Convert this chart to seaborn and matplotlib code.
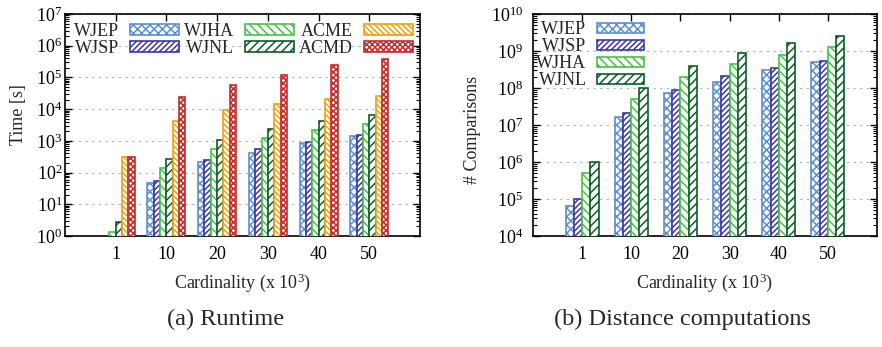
import numpy as np
import pandas as pd
import matplotlib
matplotlib.use("Agg")
import matplotlib.pyplot as plt
import seaborn as sns
from matplotlib.patches import Patch
from matplotlib.ticker import LogLocator, NullFormatter

# cardinality groups (x 10^3)
cardinality = ["1", "10", "20", "30", "40", "50"]

# (a) runtime in seconds
runtime_algos = ["WJEP", "WJSP", "WJHA", "WJNL", "ACME", "ACMD"]
rt_wjep = [np.nan, 46, 215, 425, 875, 1430]
rt_wjsp = [np.nan, 56, 250, 555, 920, 1540]
rt_wjha = [1.3, 137, 540, 1200, 2150, 3400]
rt_wjnl = [2.7, 263, 1050, 2330, 4150, 6600]
rt_acme = [316, 4360, 9400, 14500, 20500, 26000]
rt_acmd = [300, 23700, 58000, 117000, 247000, 375000]

# (b) number of distance computations
cmp_algos = ["WJEP", "WJSP", "WJHA", "WJNL"]
cmp_wjep = [6.5e4, 1.6e7, 7.2e7, 1.45e8, 3.0e8, 4.9e8]
cmp_wjsp = [1.0e5, 2.1e7, 9.1e7, 2.1e8, 3.4e8, 5.4e8]
cmp_wjha = [5.0e5, 5.0e7, 2.0e8, 4.5e8, 7.8e8, 1.26e9]
cmp_wjnl = [1.0e6, 9.8e7, 3.9e8, 8.7e8, 1.6e9, 2.5e9]

colors = {"WJEP": "#5b8fd2", "WJSP": "#3e36a6", "WJHA": "#45c445",
          "WJNL": "#0c5c26", "ACME": "#f0a010", "ACMD": "#c42e2e"}
hatches = {"WJEP": "xxxx", "WJSP": "//////", "WJHA": "\\\\\\\\",
           "WJNL": "////", "ACME": "\\\\\\\\\\\\", "ACMD": "xxxxxx"}

df_rt = pd.DataFrame({"card": cardinality, "WJEP": rt_wjep, "WJSP": rt_wjsp,
                      "WJHA": rt_wjha, "WJNL": rt_wjnl, "ACME": rt_acme,
                      "ACMD": rt_acmd}).melt(id_vars="card", var_name="algo", value_name="value")
df_cmp = pd.DataFrame({"card": cardinality, "WJEP": cmp_wjep, "WJSP": cmp_wjsp,
                       "WJHA": cmp_wjha, "WJNL": cmp_wjnl}).melt(id_vars="card", var_name="algo", value_name="value")

sns.set_style("ticks")
plt.rcParams["font.family"] = ["Liberation Serif", "DejaVu Serif"]
plt.rcParams["mathtext.fontset"] = "custom"
plt.rcParams["mathtext.rm"] = "Liberation Serif"
plt.rcParams["mathtext.it"] = "Liberation Serif:italic"
plt.rcParams["hatch.linewidth"] = 1.1
plt.rcParams["axes.linewidth"] = 1.2
plt.rcParams["axes.edgecolor"] = "black"

FS = 13

fig = plt.figure(figsize=(8.82, 3.47), dpi=100)
ax1 = fig.add_axes([65 / 882, 1 - 236 / 347, 355 / 882, 222 / 347])
ax2 = fig.add_axes([533 / 882, 1 - 236 / 347, 344 / 882, 222 / 347])


def draw(ax, df, algos, width):
    sns.barplot(data=df, x="card", y="value", hue="algo", order=cardinality,
                hue_order=algos, width=width, errorbar=None, legend=False,
                palette=[colors[a] for a in algos], linewidth=1.2, zorder=3, ax=ax)
    for algo, cont in zip(algos, ax.containers):
        for p in cont:
            p.set_facecolor("white")
            p.set_edgecolor(colors[algo])
            p.set_hatch(hatches[algo])
    ax.set_yscale("log")
    ax.set_xlim(-1, 6)
    ax.yaxis.set_major_locator(LogLocator(base=10, numticks=20))
    ax.yaxis.set_minor_locator(LogLocator(base=10, subs=np.arange(2, 10), numticks=20))
    ax.yaxis.set_minor_formatter(NullFormatter())
    ax.tick_params(axis="both", which="both", direction="in", top=True, right=True,
                   labelsize=FS, colors="black")
    ax.tick_params(axis="both", which="major", length=5, width=1)
    ax.tick_params(axis="y", which="minor", length=3, width=0.8)
    ax.tick_params(axis="x", which="major", pad=7)
    ax.yaxis.grid(True, which="major", linestyle=(0, (2, 4)), color="#b0b0b0", linewidth=0.8)
    ax.set_axisbelow(True)
    for s in ax.spines.values():
        s.set_visible(True)
        s.set_color("black")
    ax.set_xlabel("Cardinality (x $10^3$)", fontsize=FS)
    ax.xaxis.set_label_coords(0.5, -0.16)
    handles = [Patch(facecolor="white", edgecolor=colors[a], hatch=hatches[a],
                     linewidth=1.2, label=a) for a in algos]
    return handles


h1 = draw(ax1, df_rt, runtime_algos, 0.75)
ax1.set_ylim(1, 1e7)
ax1.tick_params(axis="y", which="major", pad=2)
ax1.set_ylabel("Time [s]", fontsize=FS)
ax1.yaxis.set_label_coords(-0.108, 0.545)
ax1.legend(handles=h1, ncol=3, loc="upper left", bbox_to_anchor=(0.025, 0.96),
           frameon=False, fontsize=FS, markerfirst=False, handlelength=2.7,
           handleheight=0.5, handletextpad=0.6, columnspacing=0.3,
           labelspacing=0.0, borderpad=0, borderaxespad=0)

h2 = draw(ax2, df_cmp, cmp_algos, 0.667)
ax2.set_ylim(1e4, 1e10)
ax2.tick_params(axis="y", which="major", pad=7)
ax2.set_ylabel("# Comparisons", fontsize=FS)
ax2.yaxis.set_label_coords(-0.15, 0.477)
ax2.legend(handles=h2, ncol=1, loc="upper left", bbox_to_anchor=(0.01, 0.967),
           frameon=False, fontsize=FS, markerfirst=False, handlelength=2.6,
           handleheight=0.5, handletextpad=0.6, labelspacing=0.0,
           borderpad=0, borderaxespad=0)

fig.text(226 / 882, 1 - 319 / 347, "(a) Runtime", ha="center", va="center", fontsize=17.5)
fig.text(683 / 882, 1 - 319 / 347, "(b) Distance computations", ha="center", va="center", fontsize=17.5)

fig.savefig("out.png", dpi=100)
